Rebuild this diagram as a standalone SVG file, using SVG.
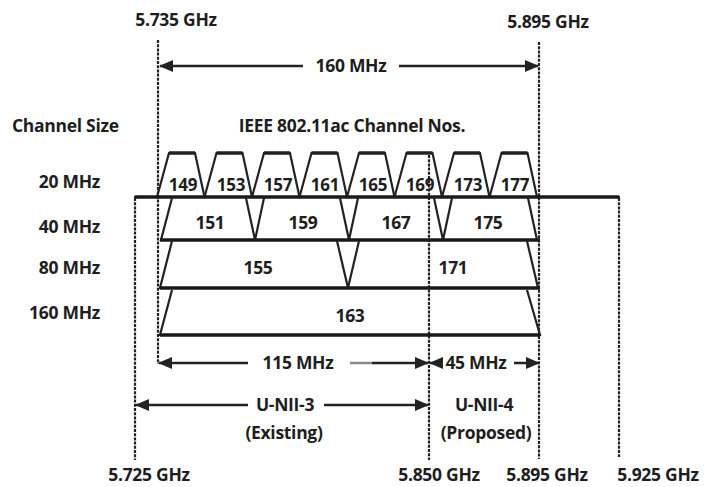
<svg xmlns="http://www.w3.org/2000/svg" width="706" height="487" viewBox="0 0 706 487">
<style>
text{font-family:"Open Sans","Liberation Sans",sans-serif;font-weight:700;fill:#1e1e1e;font-size:17.5px;letter-spacing:-0.3px}
.c{text-anchor:middle}
.r{text-anchor:end}
.n{font-size:17px}
.ch{fill:none;stroke:#222;stroke-width:2.2;stroke-linejoin:miter}
.top{stroke:#222;stroke-width:3.5}
.base{stroke:#1a1a1a;stroke-width:3.5}
.dash{stroke:#222;stroke-width:2.2;stroke-dasharray:3 1.2;fill:none}
.arr{stroke:#222;stroke-width:2.5;fill:none}
</style>
<defs>
<marker id="ah" markerWidth="14" markerHeight="12" refX="13" refY="6" orient="auto" markerUnits="userSpaceOnUse">
<path d="M0,0 L14,6 L0,12 z" fill="#222"/>
</marker>
</defs>
<rect width="706" height="487" fill="#fff"/>

<g id="guides">
<line class="dash" x1="158" y1="40" x2="158" y2="364"/>
<line class="dash" x1="539" y1="42" x2="539" y2="459"/>
<line class="dash" x1="429" y1="155" x2="429" y2="460"/>
<line class="dash" x1="135" y1="198" x2="135" y2="460"/>
<line class="dash" x1="619" y1="198" x2="619" y2="457"/>
<polyline fill="none" stroke="#222" stroke-width="2" points="135,199 135,197 619,197 619,199"/>
</g>

<g id="labels">
<text class="c" x="176" y="26">5.735 GHz</text>
<text class="c" x="548" y="28">5.895 GHz</text>
<text x="12" y="132">Channel Size</text>
<text class="c" x="352" y="132">IEEE 802.11ac Channel Nos.</text>
<text class="r" x="100" y="188">20 MHz</text>
<text class="r" x="100" y="233">40 MHz</text>
<text class="r" x="100" y="274">80 MHz</text>
<text class="r" x="100" y="319">160 MHz</text>
<text class="c" x="149" y="481">5.725 GHz</text>
<text class="c" x="439" y="481">5.850 GHz</text>
<text class="c" x="547" y="481">5.895 GHz</text>
<text class="c" x="658" y="481">5.925 GHz</text>
</g>

<g id="row20">
<g id="ch149"><polyline class="ch" points="157,197 169,153 195,153 204.5,197"/><line class="top" x1="169" y1="153" x2="195" y2="153"/><text class="c n" x="183" y="191">149</text></g>
<g id="ch153"><polyline class="ch" points="204.5,197 216.5,153 242.5,153 252,197"/><line class="top" x1="216.5" y1="153" x2="242.5" y2="153"/><text class="c n" x="231" y="191">153</text></g>
<g id="ch157"><polyline class="ch" points="252,197 264,153 290,153 299.5,197"/><line class="top" x1="264" y1="153" x2="290" y2="153"/><text class="c n" x="278" y="191">157</text></g>
<g id="ch161"><polyline class="ch" points="299.5,197 311.5,153 337.5,153 347,197"/><line class="top" x1="311.5" y1="153" x2="337.5" y2="153"/><text class="c n" x="325" y="191">161</text></g>
<g id="ch165"><polyline class="ch" points="347,197 359,153 385,153 394.5,197"/><line class="top" x1="359" y1="153" x2="385" y2="153"/><text class="c n" x="373" y="191">165</text></g>
<g id="ch169"><polyline class="ch" points="394.5,197 406.5,153 432.5,153 442,197"/><line class="top" x1="406.5" y1="153" x2="432.5" y2="153"/><text class="c n" x="420" y="191">169</text></g>
<g id="ch173"><polyline class="ch" points="442,197 454,153 480,153 489.5,197"/><line class="top" x1="454" y1="153" x2="480" y2="153"/><text class="c n" x="468" y="191">173</text></g>
<g id="ch177"><polyline class="ch" points="489.5,197 501.5,153 527.5,153 537,197"/><line class="top" x1="501.5" y1="153" x2="527.5" y2="153"/><text class="c n" x="515" y="191">177</text></g>
<line class="base" x1="135" y1="197" x2="619" y2="197"/>
</g>

<g id="row40">
<g id="ch151"><polyline class="ch" points="172,198 161,240 255,240 246,198"/><text class="c" x="210" y="229">151</text></g>
<g id="ch159"><polyline class="ch" points="264,198 255,240 349,240 340,198"/><text class="c" x="303" y="229">159</text></g>
<g id="ch167"><polyline class="ch" points="358,198 349,240 443,240 434,198"/><text class="c" x="396" y="229">167</text></g>
<g id="ch175"><polyline class="ch" points="452,198 443,240 537,240 528,198"/><text class="c" x="488" y="229">175</text></g>
<line class="base" x1="160" y1="240" x2="540" y2="240"/>
</g>

<g id="row80">
<g id="ch155"><polyline class="ch" points="172,241 160,288 348,288 337,241"/><text class="c" x="258" y="274">155</text></g>
<g id="ch171"><polyline class="ch" points="359,241 348,288 538,288 527,241"/><text class="c" x="453" y="274">171</text></g>
<line class="base" x1="160" y1="288" x2="540" y2="288"/>
</g>

<g id="row160">
<g id="ch163"><polyline class="ch" points="172,290 160,335 540,335 527,290"/><text class="c" x="350" y="322">163</text></g>
<line class="base" x1="160" y1="335" x2="540" y2="335"/>
</g>

<g id="connectors">
<line class="arr" x1="303" y1="66" x2="160" y2="66" marker-end="url(#ah)"/>
<line class="arr" x1="399" y1="66" x2="538" y2="66" marker-end="url(#ah)"/>
<text class="c" x="351" y="72">160 MHz</text>

<line class="arr" x1="248" y1="363" x2="159" y2="363" marker-end="url(#ah)"/>
<line x1="350" y1="363" x2="372" y2="363" stroke="#888" stroke-width="2.5"/>
<line class="arr" x1="372" y1="363" x2="428" y2="363" marker-end="url(#ah)"/>
<text class="c" x="298" y="369">115 MHz</text>

<line class="arr" x1="438" y1="363" x2="430" y2="363" marker-end="url(#ah)"/>
<line class="arr" x1="514" y1="363" x2="539" y2="363" marker-end="url(#ah)"/>
<text class="c" x="476" y="369">45 MHz</text>

<line class="arr" x1="248" y1="405" x2="136" y2="405" marker-end="url(#ah)"/>
<line class="arr" x1="324" y1="405" x2="428" y2="405" marker-end="url(#ah)"/>
<text class="c" x="285" y="411">U-NII-3</text>
<text class="c" x="284" y="439">(Existing)</text>
<text class="c" x="484" y="411">U-NII-4</text>
<text class="c" x="486" y="439">(Proposed)</text>
</g>
</svg>
